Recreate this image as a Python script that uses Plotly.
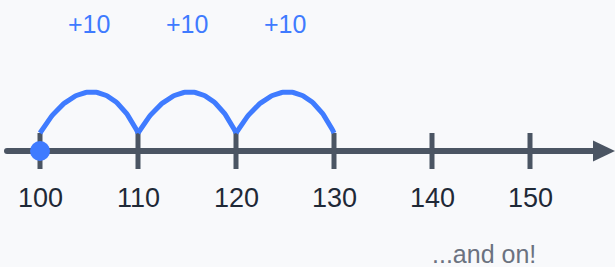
import numpy as np
import plotly.graph_objects as go

# ---- data ----
tick_values = [100, 110, 120, 130, 140, 150]
tick_labels = ["100", "110", "120", "130", "140", "150"]
start_value = 100
jump_starts = [100, 110, 120]
jump_size = 10
jump_labels = ["+10", "+10", "+10"]
note_text = "...and on!"

# ---- style ----
BLUE = "#3f7bff"
AXIS = "#4b5563"
LABEL = "#1f2937"
NOTE = "#6b7280"
BG = "#f8f9fb"
FONT = "Liberation Sans, Arial, sans-serif"

W, H = 615, 267
PX_PER_UNIT = 9.8
X0 = start_value - 40 / PX_PER_UNIT          # value at left edge
X1 = start_value + (W - 40) / PX_PER_UNIT    # value at right edge

AXIS_Y = 151
TICK_TOP, TICK_BOT = 133, 169
ARC_BASE = 133
ARC_HEIGHT = 41

fig = go.Figure()

# axis line
line_left = start_value - 33 / PX_PER_UNIT
arrow_base = start_value + 553 / PX_PER_UNIT
arrow_tip = X1
fig.add_trace(go.Scatter(x=[line_left, arrow_base + 0.2], y=[AXIS_Y, AXIS_Y], mode="lines",
                         line=dict(color=AXIS, width=6), hoverinfo="skip"))
fig.add_trace(go.Scatter(x=[line_left], y=[AXIS_Y], mode="markers",
                         marker=dict(color=AXIS, size=6, line=dict(width=0)), hoverinfo="skip"))
# arrowhead
fig.add_trace(go.Scatter(x=[arrow_base, arrow_tip, arrow_base, arrow_base],
                         y=[AXIS_Y - 10.5, AXIS_Y, AXIS_Y + 10.5, AXIS_Y - 10.5],
                         mode="lines", fill="toself", fillcolor=AXIS,
                         line=dict(color=AXIS, width=0), hoverinfo="skip"))

# tick marks
tx, ty = [], []
for v in tick_values:
    tx += [v, v, None]
    ty += [TICK_TOP, TICK_BOT, None]
fig.add_trace(go.Scatter(x=tx, y=ty, mode="lines", line=dict(color=AXIS, width=5),
                         hoverinfo="skip"))

# jump arcs (cubic bezier from each start to start + jump)
t = np.linspace(0, 1, 80)
ctrl_in, ctrl_out = 0.335 * jump_size, 0.265 * jump_size
yc = ARC_BASE - ARC_HEIGHT / 0.75
ax, ay = [], []
for s in jump_starts:
    e = s + jump_size
    px = [s, s + ctrl_in, e - ctrl_out, e]
    py = [ARC_BASE, yc, yc, ARC_BASE]
    bx = ((1 - t) ** 3 * px[0] + 3 * (1 - t) ** 2 * t * px[1]
          + 3 * (1 - t) * t ** 2 * px[2] + t ** 3 * px[3])
    by = ((1 - t) ** 3 * py[0] + 3 * (1 - t) ** 2 * t * py[1]
          + 3 * (1 - t) * t ** 2 * py[2] + t ** 3 * py[3])
    ax += list(bx) + [None]
    ay += list(by) + [None]
fig.add_trace(go.Scatter(x=ax, y=ay, mode="lines", line=dict(color=BLUE, width=5),
                         hoverinfo="skip"))

# start dot
fig.add_trace(go.Scatter(x=[start_value], y=[AXIS_Y], mode="markers",
                         marker=dict(color=BLUE, size=20, line=dict(width=0)),
                         hoverinfo="skip"))

annotations = []
for v, lab in zip(tick_values, tick_labels):
    annotations.append(dict(x=v, y=198, xref="x", yref="y", text=lab, showarrow=False,
                            xanchor="center", yanchor="middle",
                            font=dict(family=FONT, size=27, color=LABEL)))
for s, lab in zip(jump_starts, jump_labels):
    annotations.append(dict(x=s + jump_size / 2, y=24, xref="x", yref="y", text=lab,
                            showarrow=False, xanchor="center", yanchor="middle",
                            font=dict(family=FONT, size=25, color=BLUE)))
annotations.append(dict(x=start_value + (484 - 40) / PX_PER_UNIT, y=254, xref="x", yref="y",
                        text=note_text, showarrow=False, xanchor="center", yanchor="middle",
                        font=dict(family=FONT, size=25, color=NOTE)))

fig.update_layout(
    width=W, height=H,
    margin=dict(l=0, r=0, t=0, b=0),
    paper_bgcolor=BG, plot_bgcolor=BG,
    showlegend=False,
    xaxis=dict(range=[X0, X1], visible=False, fixedrange=True),
    yaxis=dict(range=[H, 0], visible=False, fixedrange=True),
    annotations=annotations,
)

fig.write_html(
    "out.html",
    config={"displayModeBar": False},
    post_script="document.body.style.margin='0';document.body.style.overflow='hidden';"
                "document.body.style.background='" + BG + "';",
)
